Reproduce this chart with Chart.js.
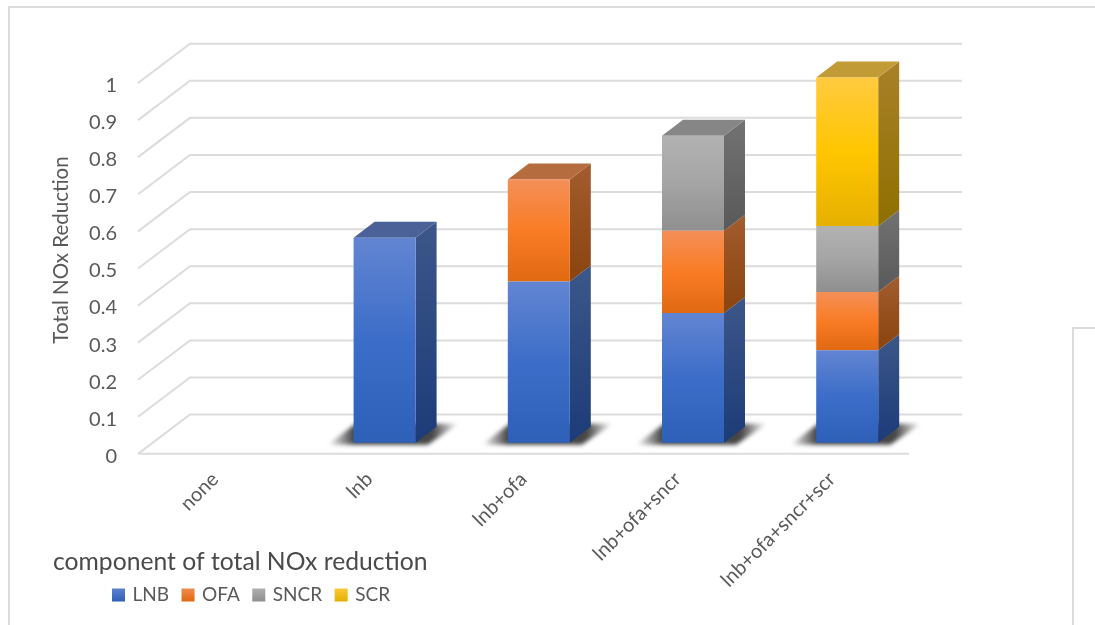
<!DOCTYPE html>
<html>
<head>
<meta charset="utf-8">
<title>component of total NOx reduction</title>
<script src="https://cdn.jsdelivr.net/npm/chart.js@4"></script>
<style>
  html, body { margin: 0; padding: 0; background: #fff; overflow: hidden; }
  #wrap { position: relative; width: 1095px; height: 625px; }
  canvas { position: absolute; left: 0; top: 0; }
  .frame { position: absolute; border: 0 solid #dcdcdc; }
  #outer { left: 8px; top: 6px; right: 0; bottom: 0; border-width: 2px 0 0 2px; }
  #inner { left: 1072px; top: 327px; right: 0; bottom: 0; border-width: 2px 0 0 2px; }
</style>
</head>
<body>
<div id="wrap">
  <div class="frame" id="outer"></div>
  <div class="frame" id="inner"></div>
  <canvas id="noxChart" width="1095" height="625"></canvas>
</div>
<script>
// data
const categories = ['none', 'lnb', 'lnb+ofa', 'lnb+ofa+sncr', 'lnb+ofa+sncr+scr'];
const lnb = [0, 0.553, 0.435, 0.35, 0.25];
const ofa = [0, 0, 0.275, 0.222, 0.157];
const sncr = [0, 0, 0, 0.256, 0.178];
const scr = [0, 0, 0, 0, 0.4];
const yTicks = [0, 0.1, 0.2, 0.3, 0.4, 0.5, 0.6, 0.7, 0.8, 0.9, 1];

// face colours: front gradient (3 stops), side gradient (2 stops), top
const lnbColors = { front: ['#6285d2', '#3c6dc8', '#2f60b8'], side: ['#3c5789', '#1c3b78'], top: '#4a6298' };
const ofaColors = { front: ['#f48f58', '#f97c25', '#e06912'], side: ['#a25c2e', '#8a440f'], top: '#b56c3e' };
const sncrColors = { front: ['#b2b2b2', '#a5a5a5', '#8f8f8f'], side: ['#727272', '#595959'], top: '#868686' };
const scrColors = { front: ['#ffca40', '#ffc600', '#e6b000'], side: ['#a98129', '#8f6f00'], top: '#c19b36' };

const FONT = 'Lato, "Open Sans", sans-serif';
const TEXT = '#595959';
const GRID = '#dcdcdc';

// chart box: floor and walls sit a little above the tick labels, bars further in
const gridLift = -2.5;
const wall = { dx: 52, dy: -39.3, right: 962 };
const barShift = { dx: 15.3, dy: -13.5 };
const barDepth = { dx: 21, dy: -16 };

function vGrad(ctx, top, bottom, stops) {
    const g = ctx.createLinearGradient(0, top, 0, bottom);
    stops.forEach((c, i) => g.addColorStop(i / (stops.length - 1), c));
    return g;
}

// front face gradient for one stacked segment
function frontFill(context) {
    const chart = context.chart;
    const y = chart.scales.y;
    if (!y || context.dataIndex === undefined) return '#888';
    let sum = 0;
    for (let i = 0; i < context.datasetIndex; i++) {
        sum += chart.data.datasets[i].data[context.dataIndex];
    }
    const value = chart.data.datasets[context.datasetIndex].data[context.dataIndex];
    return vGrad(chart.ctx, y.getPixelForValue(sum + value), y.getPixelForValue(sum), chart.data.datasets[context.datasetIndex].faces.front);
}

function makeSet(label, data, faces) {
    return { label: label, data: data, faces: faces, backgroundColor: frontFill, clip: false };
}

function poly(ctx, pts, fill) {
    ctx.beginPath();
    pts.forEach((p, i) => (i ? ctx.lineTo(p[0], p[1]) : ctx.moveTo(p[0], p[1])));
    ctx.closePath();
    ctx.fillStyle = fill;
    ctx.fill();
}

// walls and floor lines
const boxGrid = {
    id: 'boxGrid',
    beforeDatasetsDraw(chart) {
        const { ctx, chartArea, scales } = chart;
        ctx.save();
        ctx.strokeStyle = GRID;
        ctx.lineWidth = 2;
        scales.y.ticks.forEach((t) => {
            const y = scales.y.getPixelForValue(t.value) + gridLift;
            ctx.beginPath();
            ctx.moveTo(chartArea.left, y);
            ctx.lineTo(chartArea.left + wall.dx, y + wall.dy);
            ctx.lineTo(wall.right, y + wall.dy);
            ctx.stroke();
        });
        const y0 = scales.y.getPixelForValue(0) + gridLift;
        ctx.beginPath();
        ctx.moveTo(chartArea.left, y0);
        ctx.lineTo(chartArea.right, y0);
        ctx.stroke();
        ctx.restore();
    }
};

// floor shadow plus side and top faces; the library fills the front faces
const bars3d = {
    id: 'bars3d',
    beforeDatasetsDraw(chart) {
        const { ctx } = chart;
        ctx.save();
        ctx.translate(barShift.dx, barShift.dy);
        const sets = chart.data.datasets;

        categories.forEach((c, j) => {
            const totalPositive = sets.some((s) => s.data[j] > 0);
            if (!totalPositive) return;
            const first = chart.getDatasetMeta(0).data[j];
            const l = first.x - first.width / 2;
            const r = first.x + first.width / 2;
            const b = first.base;
            const g = ctx.createLinearGradient(l - 26, 0, r + 43, 0);
            g.addColorStop(0, 'rgba(60,60,60,0)');
            g.addColorStop(0.2, 'rgba(60,60,60,0.95)');
            g.addColorStop(0.8, 'rgba(60,60,60,0.95)');
            g.addColorStop(1, 'rgba(60,60,60,0)');
            ctx.save();
            ctx.filter = 'blur(2px)';
            poly(ctx, [[l - 26, b + 2], [l + 2, b - 19], [r + 43, b - 19], [r + 12, b + 2]], g);
            ctx.restore();
        });

        sets.forEach((s, i) => {
            const meta = chart.getDatasetMeta(i);
            meta.data.forEach((bar, j) => {
                if (!s.data[j]) return;
                const r = bar.x + bar.width / 2;
                const l = bar.x - bar.width / 2;
                const d = barDepth;
                poly(ctx, [[r, bar.y], [r + d.dx, bar.y + d.dy], [r + d.dx, bar.base + d.dy], [r, bar.base]],
                    vGrad(ctx, bar.y + d.dy, bar.base, s.faces.side));
                const above = sets.slice(i + 1).some((o) => o.data[j] > 0);
                if (!above) {
                    poly(ctx, [[l, bar.y], [l + d.dx, bar.y + d.dy], [r + d.dx, bar.y + d.dy], [r, bar.y]], s.faces.top);
                }
            });
        });
        // front faces follow in the same shifted space
    },
    afterDatasetsDraw(chart) {
        chart.ctx.restore();
    }
};

// pin the title and legend in the lower left, and the rotated axis title
const placement = {
    id: 'placement',
    afterLayout(chart) {
        const t = chart.titleBlock;
        t.left = 53; t.right = 600; t.top = 547; t.bottom = 576;
        const lg = chart.legend;
        lg.left = 99.5; lg.right = 700; lg.top = 571; lg.bottom = 620;
        // long rotated labels run below the axis box
        chart.scales.x.bottom = 625;
    },
    afterDraw(chart) {
        const { ctx } = chart;
        ctx.save();
        ctx.translate(61, 250);
        ctx.rotate(-Math.PI / 2);
        ctx.font = '20.5px ' + FONT;
        ctx.fillStyle = TEXT;
        ctx.textAlign = 'center';
        ctx.textBaseline = 'middle';
        ctx.fillText('Total NOx Reduction', 0, 0);
        ctx.restore();
    }
};

const chart = new Chart(document.getElementById('noxChart').getContext('2d'), {
    type: 'bar',
    data: {
        labels: categories,
        datasets: [
            makeSet('LNB', lnb, lnbColors),
            makeSet('OFA', ofa, ofaColors),
            makeSet('SNCR', sncr, sncrColors),
            makeSet('SCR', scr, scrColors)
        ]
    },
    options: {
        responsive: false,
        animation: false,
        categoryPercentage: 0.402,
        barPercentage: 1,
        layout: { padding: { left: 0, top: 85.5, right: 186, bottom: 0 } },
        scales: {
            x: {
                stacked: true,
                grid: { display: false, drawTicks: false },
                border: { display: false },
                ticks: {
                    minRotation: 45,
                    maxRotation: 45,
                    padding: 11,
                    color: TEXT,
                    font: { family: FONT, size: 20 },
                    autoSkip: false
                },
                afterFit(scale) { scale.height = 95.5; }
            },
            y: {
                stacked: true,
                min: 0,
                max: 1,
                afterBuildTicks(scale) { scale.ticks = yTicks.map((v) => ({ value: v })); },
                grid: { display: false, drawTicks: false },
                border: { display: false },
                ticks: {
                    padding: 21,
                    color: TEXT,
                    font: { family: FONT, size: 20 },
                    autoSkip: false,
                    callback: (v) => String(+Number(v).toFixed(1))
                },
                afterFit(scale) { scale.width = 138; }
            }
        },
        plugins: {
            tooltip: { enabled: false },
            title: {
                display: true,
                text: 'component of total NOx reduction',
                position: 'bottom',
                align: 'start',
                color: '#4a4a4a',
                padding: 0,
                font: { family: FONT, size: 24.7, weight: 'normal' }
            },
            legend: {
                position: 'bottom',
                align: 'start',
                labels: {
                    boxWidth: 9,
                    boxHeight: 9,
                    padding: 14.5,
                    color: TEXT,
                    font: { family: FONT, size: 19 },
                    generateLabels(c) {
                        return c.data.datasets.map((s, i) => {
                            const g = vGrad(c.ctx, 587, 601, [s.faces.front[0], s.faces.front[2]]);
                            return { text: s.label, fillStyle: g, strokeStyle: g, lineWidth: 4, fontColor: TEXT, datasetIndex: i };
                        });
                    }
                }
            }
        }
    },
    plugins: [boxGrid, bars3d, placement]
});
</script>
</body>
</html>
